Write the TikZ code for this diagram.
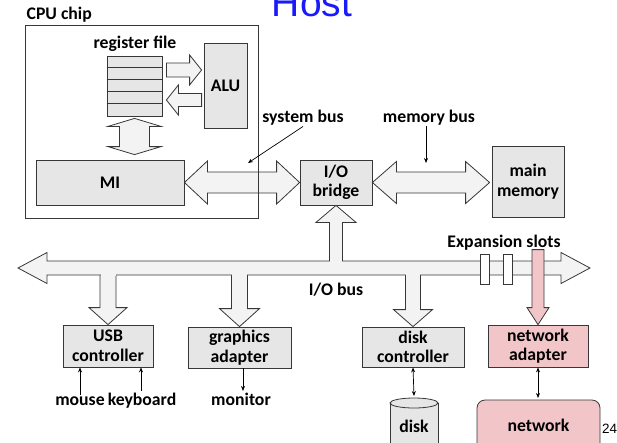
\documentclass[tikz,border=0pt]{standalone}
\usepackage{fontspec}
\setmainfont{Carlito}
\newfontfamily\arialfont{Liberation Sans}
\usetikzlibrary{calc,arrows.meta}

\definecolor{boxgray}{RGB}{230,230,230}
\definecolor{busgray}{RGB}{243,243,243}
\definecolor{netpink}{RGB}{242,198,200}
\definecolor{hostblue}{RGB}{25,25,250}
\definecolor{edge}{RGB}{55,55,55}

\tikzset{
  unit/.style={draw=edge,fill=boxgray,line width=0.8pt,inner sep=0pt,align=center},
  fat/.style={draw=edge,fill=busgray,line width=0.8pt},
  pinkfat/.style={draw=edge,fill=netpink,line width=0.8pt},
  slot/.style={draw=edge,fill=white,line width=0.8pt},
  wire/.style={draw=black,line width=0.7pt,-{Stealth[length=5pt,width=4pt]}},
  wires/.style={wire,{Stealth[length=5pt,width=4pt]}-{Stealth[length=5pt,width=4pt]}}
}

\begin{document}
\begin{tikzpicture}[x=1pt,y=-1pt,inner sep=1.5pt,
  font=\fontsize{17.7}{19.5}\selectfont\bfseries]

\clip (0,0) rectangle (617,442);

% fat arrows: style, tail/tip points, head length, head and body half widths
\def\fatdh#1#2#3#4#5#6{\path[#1] let \p1=#2, \p2=#3 in
  (\x1,\y1) -- ({\x1+#4},{\y1+#5}) -- ({\x1+#4},{\y1+#6}) -- ({\x2-#4},{\y1+#6})
  -- ({\x2-#4},{\y1+#5}) -- (\x2,\y1) -- ({\x2-#4},{\y1-#5}) -- ({\x2-#4},{\y1-#6})
  -- ({\x1+#4},{\y1-#6}) -- ({\x1+#4},{\y1-#5}) -- cycle;}
\def\fatdv#1#2#3#4#5#6{\path[#1] let \p1=#2, \p2=#3 in
  (\x1,\y1) -- ({\x1+#5},{\y1-#4}) -- ({\x1+#6},{\y1-#4}) -- ({\x1+#6},{\y2+#4})
  -- ({\x1+#5},{\y2+#4}) -- (\x1,\y2) -- ({\x1-#5},{\y2+#4}) -- ({\x1-#6},{\y2+#4})
  -- ({\x1-#6},{\y1-#4}) -- ({\x1-#5},{\y1-#4}) -- cycle;}
\def\fath#1#2#3#4#5#6{\path[#1] let \p1=#2, \p2=#3, \n1={sign(\x2-\x1)} in
  (\x2,\y1) -- ({\x2-(\n1)*#4},{\y1+#5}) -- ({\x2-(\n1)*#4},{\y1+#6}) -- (\x1,{\y1+#6})
  -- (\x1,{\y1-#6}) -- ({\x2-(\n1)*#4},{\y1-#6}) -- ({\x2-(\n1)*#4},{\y1-#5}) -- cycle;}
\def\fatv#1#2#3#4#5#6{\path[#1] let \p1=#2, \p2=#3, \n1={sign(\y2-\y1)} in
  (\x2,\y2) -- ({\x2+#5},{\y2-(\n1)*#4}) -- ({\x2+#6},{\y2-(\n1)*#4}) -- ({\x2+#6},\y1)
  -- ({\x2-#6},\y1) -- ({\x2-#6},{\y2-(\n1)*#4}) -- ({\x2-#5},{\y2-(\n1)*#4}) -- cycle;}

% title
\node[font=\arialfont\fontsize{39}{40}\selectfont,text=hostblue,anchor=base] (host) at (312,16) {Host};

% cpu
\node[anchor=base west] (cpul) at (25,19) {CPU chip};
\node[anchor=base] (regl) at (135,48) {register file};
\node[unit,minimum width=55,minimum height=60] (reg) at (134.5,86) {};
\foreach \k in {1,...,4}
  \draw[edge,line width=0.8pt] ($(reg.north west)+(0,12*\k)$) -- ($(reg.north east)+(0,12*\k)$);
\node[unit,minimum width=43,minimum height=85] (alu) at (225.5,85.5) {ALU};
\node[unit,minimum width=148,minimum height=45] (mi) at (110,182.5) {MI};

\fath{fat}{($(reg.east)+(4,-16)$)}{($(alu.west |- reg.east)+(-2,-16)$)}{12pt}{15pt}{7pt}
\fath{fat}{($(alu.west |- reg.east)+(-2,14)$)}{($(reg.east)+(4,14)$)}{12pt}{15pt}{6.5pt}
\fatdv{fat}{($(reg.south)+(0,2)$)}{($(mi.north -| reg.south)+(0,-5)$)}{8pt}{26.5pt}{15pt}

% bridge and memory
\node[unit,minimum width=72,minimum height=45] (bridge) at (336,182.5) {I/O\\bridge};
\node[unit,minimum width=72,minimum height=71] (mem) at (528,181.5) {main\\memory};
\fatdh{fat}{(mi.east)}{(bridge.west)}{23pt}{21.5pt}{10.5pt}
\fatdh{fat}{(bridge.east)}{($(mem.west |- bridge.east)+(-2,0)$)}{24pt}{21pt}{10.5pt}
\draw[edge,line width=0.8pt] (25,25) rectangle (258,218);

\node[anchor=base] (sysl) at (303,122) {system bus};
\node[anchor=base] (meml) at (429,122) {memory bus};
\coordinate (sysend) at (248,163);
\coordinate (memend) at (426,163);
\draw[wire] (sysl.south) -- (sysend);
\draw[wire] ([xshift=-3pt]meml.south) -- (memend);

% devices
\node[unit,minimum width=90,minimum height=42] (usb) at (108,346) {USB\\controller};
\node[unit,minimum width=103,minimum height=41] (gfx) at (239.5,347.5) {graphics\\adapter};
\node[unit,minimum width=102,minimum height=40] (dctrl) at (413,347) {disk\\controller};
\node[unit,fill=netpink,minimum width=100,minimum height=42] (nadp) at (538,346) {network\\adapter};

% i/o bus
\coordinate (busL) at (18,268);
\coordinate (busR) at (590,268);
\fatv{fat}{(bridge.south |- busL)}{(bridge.south)}{17pt}{20pt}{6.5pt}
\fatv{fat}{(usb.north |- busL)}{(usb.north)}{17pt}{19pt}{8pt}
\fatv{fat}{(gfx.north |- busL)}{(gfx.north)}{18pt}{20pt}{8pt}
\fatv{fat}{(dctrl.north |- busL)}{(dctrl.north)}{17pt}{19.5pt}{7.5pt}
\fatdh{fat}{(busL)}{(busR)}{29pt}{15.5pt}{7pt}
\fill[busgray] ($(bridge.south |- busL)+(-6,-8)$) rectangle ($(bridge.south |- busL)+(6,-6)$);
\foreach \n/\w in {usb/8,gfx/8,dctrl/7.5}
  \fill[busgray] ($(\n.north |- busL)+(-\w+0.5,6)$) rectangle ($(\n.north |- busL)+(\w-0.5,8)$);
\foreach \sx in {480,503}
  \path[slot] (\sx,254) rectangle ++(9,30);
\fatv{pinkfat}{($(nadp.north)+(0,-75)$)}{(nadp.north)}{17pt}{11pt}{6pt}

\node (iobl) at (336,290) {I/O bus};
\node[anchor=base] (expl) at (504,247) {Expansion slots};

% outside world
\node[anchor=base] (mouse) at (80,405) {mouse};
\node[anchor=base] (kbd) at (142,405) {keyboard};
\node[anchor=base] (monitor) at (241,405) {monitor};
\draw[wire] ([xshift=0pt]mouse.north) -- (mouse.north |- usb.south);
\draw[wire] ([xshift=-1pt]kbd.north) -- ([xshift=-1pt]kbd.north |- usb.south);
\draw[wire] ([xshift=2pt]monitor.north |- gfx.south) -- ([xshift=2pt]monitor.north);

% disk
\path[fill=boxgray] (390,403) rectangle (438,460);
\draw[edge,line width=0.8pt] (390,403) -- (390,460) (438,403) -- (438,460);
\filldraw[draw=edge,fill=boxgray,line width=0.8pt] (414,403) ellipse [x radius=24,y radius=5];
\node[anchor=base] (disk) at (414,432) {disk};
\coordinate (disktop) at (414,396);
\draw[wires] (dctrl.south) -- (disktop);

% network
\draw[draw=edge,fill=netpink,line width=0.8pt,rounded corners=8pt] (477,400) rectangle (600,470);
\node[anchor=base] (net) at (538.5,431) {network};
\coordinate (nettop) at (nadp.south |- 0,398);
\draw[wires] (nadp.south) -- (nettop);

\node[font=\arialfont\fontsize{13.5}{16}\selectfont,anchor=base west,inner sep=0pt] (pnum) at (602,433) {24};

\end{tikzpicture}
\end{document}
